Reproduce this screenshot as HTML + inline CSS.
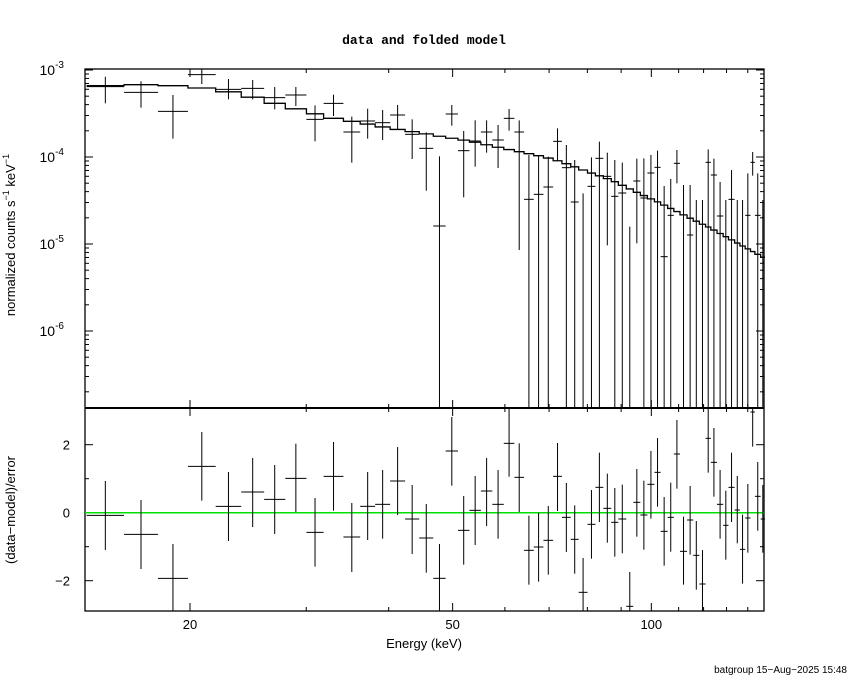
<!DOCTYPE html>
<html><head><meta charset="utf-8"><style>
html,body{margin:0;padding:0;background:#fff;}
svg{display:block;font-family:"Liberation Sans",sans-serif;}
</style></head><body>
<svg id="s" width="850" height="680" xmlns="http://www.w3.org/2000/svg">
<text x="424" y="44" font-size="13" text-anchor="middle" font-weight="bold" font-family="Liberation Mono, monospace">data and folded model</text>
<text x="424" y="648" font-size="13" text-anchor="middle">Energy (keV)</text>
<text x="847" y="673" font-size="10" text-anchor="end">batgroup 15−Aug−2025 15:48</text>
<text transform="translate(15,235) rotate(-90)" font-size="13" text-anchor="middle">normalized counts s<tspan dy="-6" font-size="9">−1</tspan><tspan dy="6"> keV</tspan><tspan dy="-6" font-size="9">−1</tspan></text>
<text transform="translate(15,510) rotate(-90)" font-size="13" text-anchor="middle">(data−model)/error</text>
<g id="g" stroke="#000" fill="none"></g>
</svg>
<script>
(function(){
const L=85,R=764,T=69,M=408,B=611;
const XE=e=>190+660*Math.log10(e/20);
const zx=v=>80+v/2.27;
let h='';
function ln(a,b,c,d,w,col){h+=`<line x1="${a}" y1="${b}" x2="${c}" y2="${d}" stroke-width="${w||1}" stroke="${col||'#000'}"/>`;}
function tx(x,y,t,anc,sz){h+=`<text x="${x}" y="${y}" font-size="${sz||13}" text-anchor="${anc||'middle'}" stroke="none" fill="#000">${t}</text>`;}
h+=`<rect x="${L}" y="${T}" width="${R-L}" height="${B-T}" stroke-width="1.3"/>`;
ln(L,M,R,M,2);
for(let e=20;e<=150;e+=10){
  const x=XE(e); if(x<L||x>R)continue;
  const maj=(e==20||e==50||e==100); const l=maj?8:4;
  ln(x,T,x,T+l);ln(x,M,x,M-l);ln(x,M,x,M+l);ln(x,B,x,B-l);
}
tx(XE(20),629,'20');tx(XE(50),629,'50');tx(XE(100),629,'100');
const YV=v=>70+87*(-3-Math.log10(v));
for(let d=-7;d<=-3;d++)for(let k=1;k<10;k++){const v=k*Math.pow(10,d);const y=YV(v);if(y<T-1||y>M)continue;const l=k==1?8:4;ln(L,y,L+l,y);ln(R,y,R-l,y);}
[-3,-4,-5,-6].forEach(d=>{const y=YV(Math.pow(10,d));h+=`<text x="64" y="${y+5}" font-size="14" text-anchor="end" stroke="none" fill="#000">10<tspan dy="-7" font-size="10">${d}</tspan></text>`;});
const RY=v=>512.7-34*v;
for(let v=-2;v<=2;v++){const y=RY(v);const l=v%2==0?8:4;ln(L,y,L+l,y);ln(R,y,R-l,y);}
tx(70,RY(2)+5,'2','end');tx(70,RY(0)+5,'0','end');tx(70,RY(-2)+5,'−2','end');
const res=[[15,100,346,243,450],[100,177,403,300,507],[177,245,535,432,635],[245,308,199,96,302],[308,366,319,216,423],[366,418,276,174,381],[418,466,298,195,402],[466,514,235,131,336],[514,553,397,294,500],[553,598,229,126,332],[598,636,411,309,516],[636,670,319,216,420],[670,704,313,210,416],[704,738,243,141,345],[738,770,357,255,462],[770,802,414,312,518],[802,830,535,432,640],[830,858,153,51,257],[858,884,391,288,494],[884,910,331,228,435],[910,936,273,174,378],[936,962,313,210,416],[962,986,130,26,230],[986,1008,232,130,336],[1008,1030,451,347,554],[1030,1052,441,338,545],[1052,1074,421,318,524],[1074,1094,229,129,333],[1094,1114,352,249,456],[1114,1132,418,316,521],[1132,1152,577,474,680],[1152,1170,373,270,476],[1170,1188,262,158,366],[1188,1206,325,221,428],[1206,1222,367,264,470],[1222,1240,357,254,460],[1240,1256,619,516,720],[1256,1272,307,207,410],[1272,1288,345,242,449],[1288,1304,253,153,356],[1304,1318,217,114,320],[1318,1334,394,291,497],[1334,1348,352,248,455],[1348,1362,162,60,266],[1362,1378,454,350,554],[1378,1392,360,258,464],[1392,1406,466,363,569],[1406,1420,552,450,655],[1420,1432,115,26,218],[1432,1446,187,84,290],[1446,1460,313,210,416],[1460,1472,376,272,479],[1472,1486,262,158,366],[1486,1498,330,228,430],[1498,1510,448,344,551],[1510,1522,354,252,458],[1522,1532,36,0,140],[1532,1545,289,186,392],[1545,1555,357,255,458]];
const cy=v=>Math.min(Math.max(400+v/3,M),B);
h+=`<line x1="${L}" y1="512.7" x2="${R}" y2="512.7" stroke="#00e000" stroke-width="1.5"/>`;
res.forEach(r=>{const a=zx(r[0]),b=zx(r[1]),c=(a+b)/2;const y=400+r[2]/3;if(y>M&&y<B)ln(a,y,b,y);ln(c,cy(r[3]),c,cy(r[4]));});
const tdat=[[80,50,130],[97,64,143],[154,105,236],[44,0,72],[88,57,118],[85,60,118],[113,81,148],[105,81,138],[178,136,244],[130,104,168],[216,170,308],[183,146,236],[188,150,240],[165,135,210],[223,178,297],[265,217,392],[498,289,null],[162,135,197],[272,213,412],[243,181,320],[216,181,278],[240,195,324],[175,147,212],[216,181,570],[418,285,null],[403,286,null],[381,290,null],[244,205,303],[323,255,null],[426,300,null],[null,400,null],[379,292,null],[295,245,null],[349,278,556],[409,300,null],[399,308,null],[null,500,null],[363,296,550],[414,295,null],[339,285,null],[322,272,null],[590,378,null],[466,357,null],[310,270,370],[null,375,null],[525,375,null],[null,420,null],[null,420,null],[307,268,null],[345,296,null],[468,366,null],[null,420,null],[418,330,null],[null,420,null],[null,420,null],[466,340,null],[307,276,347],[466,340,null],[null,420,null]];
const ty=v=>Math.min(Math.max(60+v/3,T),M);
res.forEach((r,i)=>{const t=tdat[i];if(!t)return;const a=zx(r[0]),b=zx(r[1]),c=(a+b)/2;if(t[0]!==null&&60+t[0]/3<M)ln(a,ty(t[0]),b,ty(t[0]));ln(c,ty(t[1]),c,t[2]===null?M:ty(t[2]));});
const mk=[[15,80],[100,74],[177,74],[245,80],[308,88],[366,103],[418,120],[466,140],[514,153],[553,170],[598,180],[636,188],[704,205],[770,218],[830,232],[884,243],[936,258],[986,272],[1052,290],[1094,306],[1152,335],[1206,360],[1256,392],[1318,430],[1378,470],[1432,505],[1500,555],[1555,595]];
function mY(q){for(let i=0;i<mk.length-1;i++)if(q<=mk[i+1][0]){const f=(q-mk[i][0])/(mk[i+1][0]-mk[i][0]);return mk[i][1]+f*(mk[i+1][1]-mk[i][1]);}return mk[mk.length-1][1];}
let p='';res.forEach((r,i)=>{const y=60+mY((r[0]+r[1])/2)/3;const a=zx(r[0]),b=zx(r[1]);p+=(i?'L':'M')+a+' '+y+'L'+b+' '+y;});
h+=`<path d="${p}" stroke-width="1.3"/>`;
document.getElementById('g').innerHTML=h;
})();
</script>
</body></html>
